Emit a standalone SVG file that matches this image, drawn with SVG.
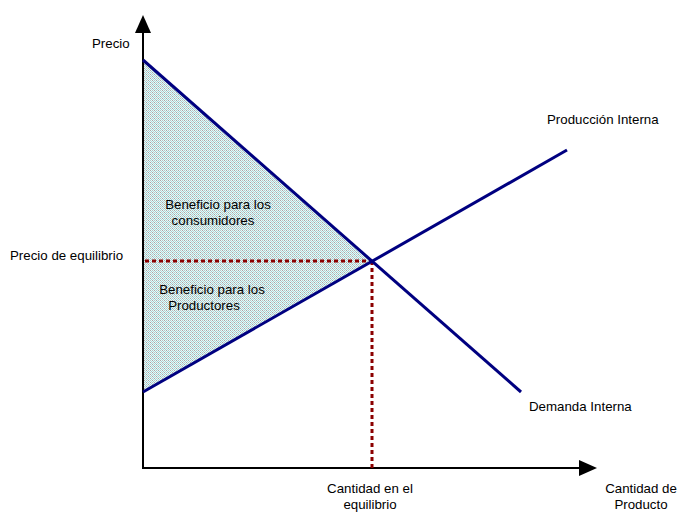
<svg xmlns="http://www.w3.org/2000/svg" width="679" height="512" viewBox="0 0 679 512">
  <style>
    text { font-family: "Liberation Sans", Arial, sans-serif; font-size: 13.3px; fill: #000; }
    .axis { stroke: #000; stroke-width: 2; fill: none; }
    .curve { stroke: #000080; stroke-width: 3; fill: none; }
    .guide { stroke: #8b0000; stroke-width: 3; stroke-dasharray: 4 3; fill: none; }
  </style>
  <defs>
    <!-- speckled grey/teal fill -->
    <pattern id="dots" width="4" height="4" patternUnits="userSpaceOnUse">
      <rect width="4" height="4" fill="#eef6f6"/>
      <rect x="0" y="0" width="1" height="1" fill="#a8a8a8"/>
      <rect x="2" y="0" width="1" height="1" fill="#b4c8c8"/>
      <rect x="1" y="1" width="1" height="1" fill="#96d4d4"/>
      <rect x="3" y="1" width="1" height="1" fill="#a8dcdc"/>
      <rect x="0" y="2" width="1" height="1" fill="#b4c8c8"/>
      <rect x="2" y="2" width="1" height="1" fill="#a8a8a8"/>
      <rect x="1" y="3" width="1" height="1" fill="#a8dcdc"/>
      <rect x="3" y="3" width="1" height="1" fill="#96d4d4"/>
    </pattern>
  </defs>

  <!-- surplus region between the two curves -->
  <g id="surplus-area">
    <polygon points="143,60 372,261 143,392" fill="url(#dots)"/>
  </g>

  <g id="connectors">
    <!-- axes -->
    <line class="axis" x1="143" y1="30" x2="143" y2="468"/>
    <line class="axis" x1="142" y1="468" x2="582" y2="468"/>
    <polygon points="143,15 135,33 151,33" fill="#000"/>
    <polygon points="597,468 579,460 579,476" fill="#000"/>
    <!-- equilibrium guides -->
    <line class="guide" x1="145" y1="261" x2="372" y2="261"/>
    <line class="guide" x1="372" y1="261" x2="372" y2="468"/>
    <!-- demand and supply -->
    <line class="curve" x1="143" y1="60" x2="521" y2="392"/>
    <line class="curve" x1="143" y1="392" x2="567" y2="150"/>
  </g>

  <g id="label-precio"><text x="92" y="48">Precio</text></g>
  <g id="label-precio-eq"><text x="10" y="260">Precio de equilibrio</text></g>
  <g id="label-produccion"><text x="547" y="124">Producción Interna</text></g>
  <g id="label-demanda"><text x="529" y="411">Demanda Interna</text></g>
  <g id="label-consumidores">
    <text x="218" y="209" text-anchor="middle">Beneficio para los</text>
    <text x="213" y="225" text-anchor="middle">consumidores</text>
  </g>
  <g id="label-productores">
    <text x="212" y="294" text-anchor="middle">Beneficio para los</text>
    <text x="204" y="310" text-anchor="middle">Productores</text>
  </g>
  <g id="label-cantidad-eq">
    <text x="370" y="493" text-anchor="middle">Cantidad en el</text>
    <text x="370" y="509" text-anchor="middle">equilibrio</text>
  </g>
  <g id="label-cantidad">
    <text x="641" y="493" text-anchor="middle">Cantidad de</text>
    <text x="641" y="509" text-anchor="middle">Producto</text>
  </g>
</svg>
